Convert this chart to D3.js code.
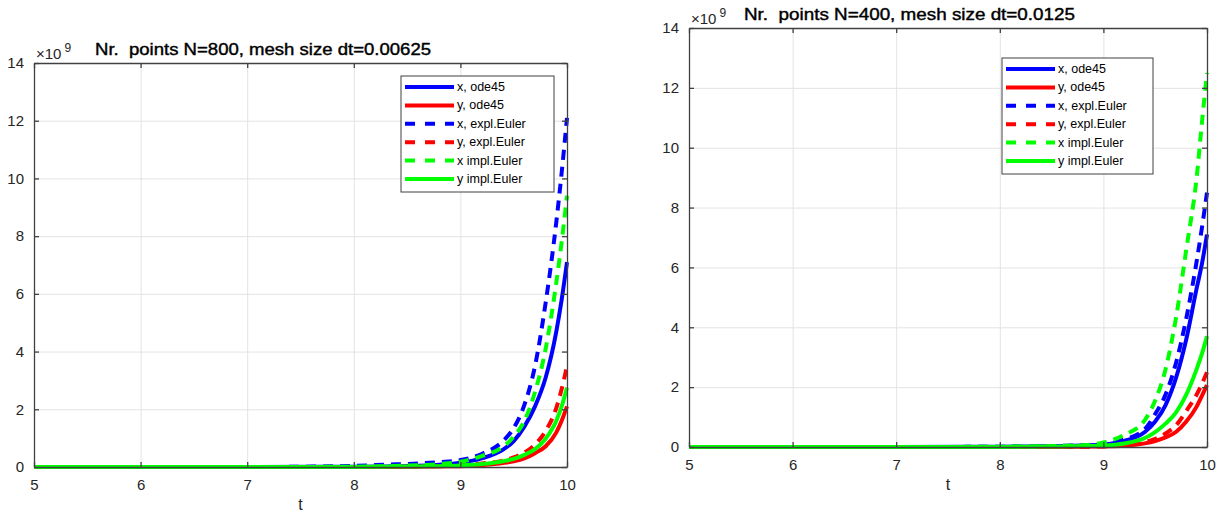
<!DOCTYPE html>
<html>
<head>
<meta charset="utf-8">
<script src="https://cdn.jsdelivr.net/npm/d3@7"></script>
<style>
  body { margin: 0; background: #fff; }
  svg { font-family: "Liberation Sans", Arial, sans-serif; }
</style>
</head>
<body>
<div id="chart"></div>
<script>
// time samples (same grid for both panels)
var tValues = [5, 7, 8, 8.3, 8.6, 8.8, 9.0, 9.2, 9.4, 9.5, 9.6, 9.7, 9.8, 9.9, 9.95, 10];

// left panel: N=800, values in units of 1e9
var xOde45Left = [0, 0, 0.01, 0.02, 0.04, 0.08, 0.15, 0.3, 0.6, 0.9, 1.4, 2.1, 3.1, 4.7, 5.8, 7.1];
var yOde45Left = [0, 0, 0, 0, 0.01, 0.02, 0.03, 0.07, 0.14, 0.2, 0.3, 0.48, 0.72, 1.2, 1.6, 2.1];
var xExplLeft  = [0, 0, 0.04, 0.08, 0.12, 0.17, 0.24, 0.45, 0.9, 1.35, 2.15, 3.5, 5.7, 8.5, 10.2, 12.1];
var yExplLeft  = [0, 0, 0, 0.01, 0.02, 0.03, 0.05, 0.12, 0.22, 0.33, 0.5, 0.78, 1.25, 2.05, 2.7, 3.5];
var xImplLeft  = [0, 0, 0.01, 0.03, 0.06, 0.1, 0.18, 0.38, 0.7, 1.05, 1.6, 2.6, 4.1, 6.4, 7.8, 9.4];
var yImplLeft  = [0, 0, 0, 0.01, 0.02, 0.03, 0.05, 0.1, 0.2, 0.28, 0.42, 0.62, 0.98, 1.6, 2.1, 2.75];

// right panel: N=400
var xOde45Right = [0, 0, 0.01, 0.02, 0.03, 0.05, 0.08, 0.2, 0.5, 0.85, 1.4, 2.3, 3.6, 5.3, 6.1, 7.1];
var yOde45Right = [0, 0, 0, 0, 0, 0.01, 0.02, 0.04, 0.12, 0.2, 0.32, 0.5, 0.85, 1.35, 1.7, 2.07];
var xExplRight  = [0, 0, 0.01, 0.02, 0.04, 0.06, 0.1, 0.25, 0.6, 1.1, 1.75, 2.8, 4.3, 6.2, 7.3, 8.5];
var yExplRight  = [0, 0, 0, 0, 0.01, 0.01, 0.02, 0.06, 0.16, 0.27, 0.45, 0.72, 1.2, 1.75, 2.1, 2.5];
var xImplRight  = [0, 0, 0.01, 0.02, 0.04, 0.06, 0.15, 0.4, 0.9, 1.55, 2.6, 4.3, 6.6, 9.0, 10.8, 12.5];
var yImplRight  = [0, 0, 0, 0.01, 0.02, 0.03, 0.05, 0.12, 0.3, 0.5, 0.78, 1.15, 1.75, 2.6, 3.1, 3.7];

var seriesNames = ["x, ode45", "y, ode45", "x, expl.Euler", "y, expl.Euler", "x impl.Euler", "y impl.Euler"];
var seriesColors = ["#0000ff", "#ff0000", "#0000ff", "#ff0000", "#00ff00", "#00ff00"];
var seriesDashed = [false, false, true, true, true, false];

var xTicks = [5, 6, 7, 8, 9, 10];
var yTicks = [0, 2, 4, 6, 8, 10, 12, 14];

var svg = d3.select("#chart").append("svg")
    .attr("width", 1217)
    .attr("height", 518);

drawPanel({left: 34, right: 567, top: 63, bottom: 467,
           title: "Nr.  points N=800, mesh size dt=0.00625", titleX: 95, titleY: 55, titleW: 336,
           legend: {x: 401, y: 76, w: 153, h: 116},
           series: [xOde45Left, yOde45Left, xExplLeft, yExplLeft, xImplLeft, yImplLeft]});

drawPanel({left: 689, right: 1207, top: 28, bottom: 447,
           title: "Nr.  points N=400, mesh size dt=0.0125", titleX: 744, titleY: 20, titleW: 331,
           legend: {x: 1002, y: 58, w: 151, h: 116},
           series: [xOde45Right, yOde45Right, xExplRight, yExplRight, xImplRight, yImplRight]});


function drawPanel(p)
{
    var width = p.right - p.left,
        height = p.bottom - p.top;

    var g = svg.append("g")
        .attr("transform", "translate(" + p.left + "," + p.top + ")");

    var x = d3.scaleLinear().domain([5, 10]).range([0, width]);
    var y = d3.scaleLinear().domain([0, 14]).range([height, 0]);

    // grid
    g.append("g")
        .attr("class", "grid")
        .attr("transform", "translate(0," + height + ")")
        .call(d3.axisBottom(x).tickValues(xTicks).tickSize(-height).tickFormat(""))
        .call(function(s) { s.select(".domain").remove(); });
    g.append("g")
        .attr("class", "grid")
        .call(d3.axisLeft(y).tickValues(yTicks).tickSize(-width).tickFormat(""))
        .call(function(s) { s.select(".domain").remove(); });
    g.selectAll(".grid line").attr("stroke", "#e3e3e3").attr("stroke-width", 1);

    // curves
    var line = d3.line()
        .x(function(d, i) { return x(tValues[i]); })
        .y(function(d) { return y(d); })
        .curve(d3.curveMonotoneX);

    var clip = "clip" + p.left;
    g.append("clipPath").attr("id", clip)
        .append("rect").attr("x", -3).attr("y", -3).attr("width", width + 6).attr("height", height + 6);

    p.series.forEach(function(values, k) {
        g.append("path")
            .attr("clip-path", "url(#" + clip + ")")
            .attr("d", line(values))
            .style("fill", "none")
            .style("stroke", seriesColors[k])
            .style("stroke-width", 4)
            .style("stroke-dasharray", seriesDashed[k] ? "10,7" : null);
    });

    // axes: labels on bottom/left, inward ticks on all sides
    var axisColor = "#404040";
    var fmt = d3.format("d");
    g.append("g")
        .attr("class", "axis")
        .attr("transform", "translate(0," + height + ")")
        .call(d3.axisBottom(x).tickValues(xTicks).tickFormat(fmt).tickSizeInner(-5).tickSizeOuter(0).tickPadding(12));
    g.append("g")
        .attr("class", "axis")
        .call(d3.axisLeft(y).tickValues(yTicks).tickFormat(fmt).tickSizeInner(-5).tickSizeOuter(0).tickPadding(10));
    g.append("g")
        .attr("class", "axis")
        .call(d3.axisTop(x).tickValues(xTicks).tickSizeInner(-5).tickSizeOuter(0).tickFormat(""));
    g.append("g")
        .attr("class", "axis")
        .attr("transform", "translate(" + width + ",0)")
        .call(d3.axisRight(y).tickValues(yTicks).tickSizeInner(-5).tickSizeOuter(0).tickFormat(""));
    g.selectAll(".axis path, .axis line").attr("stroke", axisColor).attr("stroke-width", 1.3);
    g.selectAll(".axis text")
        .attr("font-family", "Liberation Sans, Arial, sans-serif")
        .attr("font-size", 15)
        .attr("fill", "#262626");

    // exponent label
    var ex = g.append("text")
        .attr("x", 2)
        .attr("y", -4)
        .attr("font-size", 15)
        .attr("fill", "#262626");
    ex.append("tspan").text("\u00d710");
    ex.append("tspan").attr("dx", 3).attr("dy", -7).attr("font-size", 12).text("9");

    // x label
    g.append("text")
        .attr("x", width / 2)
        .attr("y", height + 43)
        .attr("text-anchor", "middle")
        .attr("font-size", 16)
        .attr("fill", "#262626")
        .text("t");

    // title
    svg.append("text")
        .attr("x", p.titleX)
        .attr("y", p.titleY)
        .attr("font-size", 16)
        .attr("textLength", p.titleW)
        .attr("lengthAdjust", "spacingAndGlyphs")
        .attr("fill", "#000")
        .style("white-space", "pre")
        .style("stroke", "#000")
        .style("stroke-width", 0.4)
        .text(p.title);

    // legend
    var lg = svg.append("g")
        .attr("transform", "translate(" + p.legend.x + "," + p.legend.y + ")");
    lg.append("rect")
        .attr("width", p.legend.w)
        .attr("height", p.legend.h)
        .style("fill", "#fff")
        .style("stroke", "#404040")
        .style("stroke-width", 1);

    var rowY = d3.scalePoint().domain(seriesNames).range([11, p.legend.h - 13]);
    seriesNames.forEach(function(name, k) {
        lg.append("line")
            .attr("x1", 4).attr("x2", 53)
            .attr("y1", rowY(name)).attr("y2", rowY(name))
            .style("stroke", seriesColors[k])
            .style("stroke-width", 4)
            .style("stroke-dasharray", seriesDashed[k] ? "10,10" : null);
        lg.append("text")
            .attr("x", 56)
            .attr("y", rowY(name) + 4)
            .attr("font-size", 12.5)
            .attr("fill", "#000")
            .text(name);
    });
}
</script>
</body>
</html>
